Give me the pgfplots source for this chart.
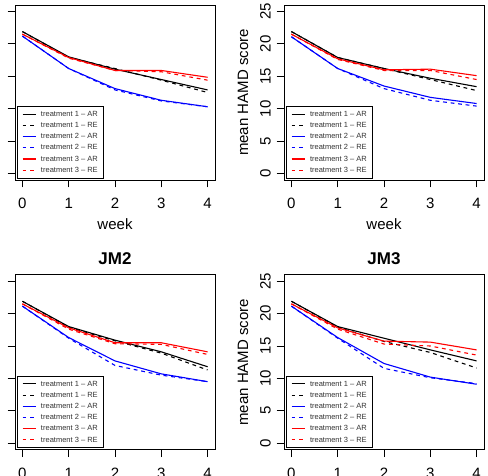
\documentclass[border=0pt]{standalone}
\usepackage{pgfplots}
\usepackage{pgfplotstable}
\pgfplotsset{compat=1.18}
\usepackage{fontspec}
\setmainfont{Liberation Sans}
\setsansfont{Liberation Sans}

% mean HAMD score by week, per treatment and covariance structure
\pgfplotstableread{
week t1AR t1RE t2AR t2RE t3AR t3RE
0 21.9 21.9 21.2 21.2 21.5 21.5
1 18.0 17.9 16.2 16.2 17.9 17.8
2 16.1 16.2 13.1 12.9 15.9 15.9
3 14.5 14.4 11.3 11.2 15.9 15.7
4 12.9 12.5 10.3 10.3 14.85 14.4
}\tabA
\pgfplotstableread{
week t1AR t1RE t2AR t2RE t3AR t3RE
0 21.9 21.9 21.1 21.1 21.5 21.5
1 17.9 17.9 16.2 16.2 17.7 17.6
2 16.2 16.2 13.5 13.1 16.0 15.9
3 14.7 14.5 11.75 11.3 16.1 15.9
4 13.4 12.8 10.8 10.4 15.1 14.5
}\tabB
\pgfplotstableread{
week t1AR t1RE t2AR t2RE t3AR t3RE
0 21.9 21.9 21.15 21.15 21.5 21.5
1 18.0 17.9 16.3 16.2 17.8 17.6
2 15.9 15.8 12.7 12.0 15.5 15.35
3 14.1 13.9 10.7 10.5 15.5 15.25
4 11.8 11.3 9.5 9.5 14.1 13.7
}\tabJMtwo
\pgfplotstableread{
week t1AR t1RE t2AR t2RE t3AR t3RE
0 21.9 21.9 21.15 21.15 21.5 21.5
1 18.0 17.9 16.3 16.2 17.8 17.6
2 16.2 15.7 12.3 11.55 15.75 15.3
3 14.4 14.0 10.2 10.1 15.6 15.0
4 12.7 11.6 9.1 9.2 14.4 13.6
}\tabJMthree

\newcommand\sixlines[1]{%
  \addplot[black]        table[x=week,y=t1AR]{#1};
  \addplot[black,rdash]  table[x=week,y=t1RE]{#1};
  \addplot[blue]         table[x=week,y=t2AR]{#1};
  \addplot[blue,rdash]   table[x=week,y=t2RE]{#1};
  \addplot[red]          table[x=week,y=t3AR]{#1};
  \addplot[red,rdash]    table[x=week,y=t3RE]{#1};
  \legend{treatment 1 -- AR,treatment 1 -- RE,treatment 2 -- AR,
          treatment 2 -- RE,treatment 3 -- AR,treatment 3 -- RE}%
}

\tikzset{rdash/.style={dash pattern=on 3.8pt off 3.8pt}}

\pgfplotsset{
  hamd/.style={
    scale only axis, width=200pt, height=175pt,
    anchor=north west,
    xmin=-0.16, xmax=4.16, ymin=-1, ymax=26,
    xtick={0,1,2,3,4}, ytick={0,5,10,15,20,25},
    tick align=outside, xtick pos=bottom, ytick pos=left,
    major tick length=7.5pt,
    tick style={black, line width=0.8pt},
    axis line style={line width=0.9pt},
    /pgf/number format/assume math mode=true,
    ticklabel style={font=\fontsize{15}{18}\selectfont},
    xticklabel style={anchor=base, yshift=-20.8pt},
    yticklabel style={xshift=-6pt, rotate=90, anchor=base},
    ylabel={mean HAMD score},
    label style={font=\fontsize{15}{18}\selectfont},
    xlabel style={at={(axis description cs:0.5,-0.2857)}, anchor=base},
    ylabel style={at={(axis description cs:-0.18,0.5)}, anchor=base},
    title style={at={(axis description cs:0.5,1.057)}, anchor=base, yshift=-6pt,
                 font=\bfseries\fontsize{17}{20}\selectfont},
    every axis plot/.append style={line width=1.1pt, mark=none},
    legend cell align=left,
    legend image code/.code={\draw[##1] (0pt,0pt) -- (13.3pt,0pt);},
    legend style={at={(axis description cs:0.0085,0.0097)}, anchor=south west,
                  draw=black, line width=0.8pt, fill=white,
                  font=\fontsize{7.5}{9}\selectfont, text=black!80,
                  row sep=1.8pt, column sep=3.5pt, inner xsep=5pt, inner ysep=3pt,
                  nodes={inner sep=1pt, text height=5.8pt, text depth=1.6pt}},
  },
  % left column: its y labels lie beyond the left edge
  leftcol/.style={yticklabels={}, ylabel={}},
}

\begin{document}
\begin{tikzpicture}
\path[use as bounding box] (0pt,0pt) rectangle (488pt,-476pt);

\begin{axis}[hamd, leftcol, at={(15pt,-5pt)}, xlabel={week}]
  \sixlines{\tabA}
\end{axis}

\begin{axis}[hamd, at={(284pt,-5pt)}, xlabel={week}]
  \sixlines{\tabB}
\end{axis}

\begin{axis}[hamd, leftcol, at={(15pt,-274.7pt)}, title={JM2}]
  \sixlines{\tabJMtwo}
\end{axis}

\begin{axis}[hamd, at={(284pt,-274.7pt)}, title={JM3}]
  \sixlines{\tabJMthree}
\end{axis}
\end{tikzpicture}
\end{document}
